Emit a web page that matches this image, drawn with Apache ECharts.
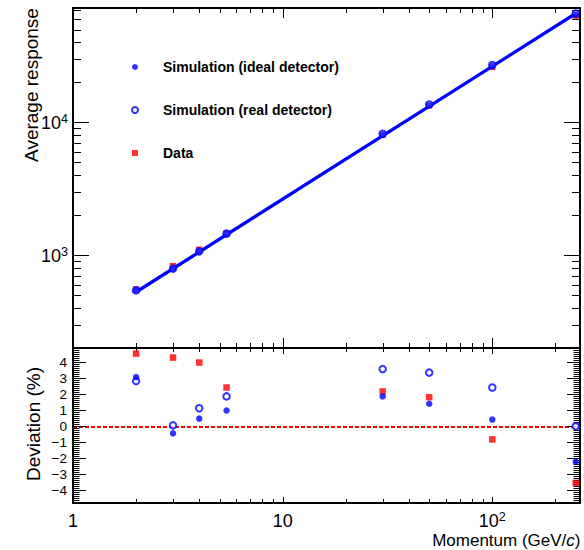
<!DOCTYPE html>
<html>
<head>
<meta charset="utf-8">
<script src="https://cdn.jsdelivr.net/npm/echarts@6/dist/echarts.min.js"></script>
<style>
  html, body { margin: 0; padding: 0; background: #fff; }
  #chart { width: 584px; height: 550px; }
</style>
</head>
<body>
<div id="chart"></div>
<script>
// ---------------- data ----------------
const momenta = [2, 3, 4, 5.4, 30, 50, 100, 250];
const respIdeal = [544, 789, 1061, 1440, 8068, 13386, 26511, 64535];
const respReal = [543, 792, 1068, 1452, 8204, 13644, 27042, 66000];
const respData = [552, 826, 1098, 1460, 8093, 13440, 26184, 63664];
const fitMomenta = [2, 250];
const fitResp = [528, 66000];
const devIdeal = [3.08, -0.44, 0.48, 0.99, 1.87, 1.41, 0.42, -2.22];
const devReal = [2.83, 0.06, 1.13, 1.87, 3.58, 3.36, 2.43, 0.0];
const devData = [4.55, 4.3, 3.99, 2.43, 2.18, 1.82, -0.82, -3.54];

const nameIdeal = 'Simulation (ideal detector)';
const nameReal = 'Simulation (real detector)';
const nameData = 'Data';

// ---------------- ticks ----------------
const xMajorTicks = [1, 10, 100];
const xMinorTicks = [2, 3, 4, 5, 6, 7, 8, 9, 20, 30, 40, 50, 60, 70, 80, 90, 200];
const respMajorTicks = [1000, 10000];
const respMinorTicks = [200, 300, 400, 500, 600, 700, 800, 900,
  2000, 3000, 4000, 5000, 6000, 7000, 8000, 9000,
  20000, 30000, 40000, 50000, 60000, 70000];
const devMajorTicks = [-4, -3, -2, -1, 0, 1, 2, 3, 4];
const devMinorTicks = [];
for (let i = -38; i <= 39; i++) { if (i % 8 !== 0) devMinorTicks.push(i / 8); }

const xRange = [1, 262];
const respRange = [200, 72600];
const devRange = [-4.8, 4.9];

const FONT = '"Liberation Sans", Arial, Helvetica, sans-serif';

function zip(a, b) { return a.map((v, i) => [v, b[i]]); }

function xTicks(gi, values, len, yRef) {
  return {
    type: 'custom', xAxisIndex: gi, yAxisIndex: gi, silent: true, z: 10,
    data: values.map(v => [v, yRef]),
    renderItem: function (params, api) {
      const cs = params.coordSys;
      const px = Math.round(api.coord([api.value(0), yRef])[0]) + 0.5;
      const b = cs.y + cs.height, t = cs.y;
      return { type: 'group', children: [
        { type: 'line', shape: { x1: px, y1: b, x2: px, y2: b - len }, style: { stroke: '#000', lineWidth: 1 } },
        { type: 'line', shape: { x1: px, y1: t, x2: px, y2: t + len }, style: { stroke: '#000', lineWidth: 1 } }
      ] };
    }
  };
}
function yTicks(gi, values, len, xRef) {
  return {
    type: 'custom', xAxisIndex: gi, yAxisIndex: gi, silent: true, z: 10,
    data: values.map(v => [xRef, v]),
    renderItem: function (params, api) {
      const cs = params.coordSys;
      const py = Math.round(api.coord([xRef, api.value(1)])[1]) + 0.5;
      const l = cs.x, r = cs.x + cs.width;
      return { type: 'group', children: [
        { type: 'line', shape: { x1: l, y1: py, x2: l + len, y2: py }, style: { stroke: '#000', lineWidth: 1 } },
        { type: 'line', shape: { x1: r, y1: py, x2: r - len, y2: py }, style: { stroke: '#000', lineWidth: 1 } }
      ] };
    }
  };
}

function powLabel(v) {
  const e = Math.log10(v);
  const r = Math.round(e);
  if (Math.abs(e - r) > 1e-6) return '';
  if (r === 0) return '{b|1}';
  if (r === 1) return '{b|10}';
  return '{b|10}{s|' + r + '}';
}
const powRich = {
  b: { fontFamily: FONT, fontSize: 18, lineHeight: 20, color: '#000', verticalAlign: 'bottom' },
  s: { fontFamily: FONT, fontSize: 12.5, lineHeight: 12, color: '#000', verticalAlign: 'top' }
};

const blue = '#0000ff';
const red = '#ff0000';
const symSize = 6.5;

const chart = echarts.init(document.getElementById('chart'), null, { renderer: 'svg' });
chart.setOption({
  animation: false,
  backgroundColor: '#fff',
  grid: [
    { left: 73, right: 4, top: 8, height: 340, show: true, borderColor: '#000', borderWidth: 2, backgroundColor: 'transparent' },
    { left: 73, right: 4, top: 348, height: 155, show: true, borderColor: '#000', borderWidth: 2, backgroundColor: 'transparent' }
  ],
  xAxis: [
    { gridIndex: 0, type: 'log', logBase: 10, min: xRange[0], max: xRange[1],
      axisLine: { show: false }, axisTick: { show: false }, axisLabel: { show: false }, splitLine: { show: false } },
    { gridIndex: 1, type: 'log', logBase: 10, min: xRange[0], max: xRange[1],
      axisLine: { show: false }, axisTick: { show: false }, splitLine: { show: false },
      axisLabel: { show: true, margin: 7, formatter: powLabel, rich: powRich, showMinLabel: true, showMaxLabel: true, hideOverlap: false } }
  ],
  yAxis: [
    { gridIndex: 0, type: 'log', logBase: 10, min: respRange[0], max: respRange[1],
      axisLine: { show: false }, axisTick: { show: false }, splitLine: { show: false },
      axisLabel: { show: true, margin: 5, formatter: powLabel, rich: powRich } },
    { gridIndex: 1, type: 'value', min: devRange[0], max: devRange[1], splitNumber: 10,
      axisLine: { show: false }, axisTick: { show: false }, splitLine: { show: false },
      axisLabel: { show: true, margin: 6, fontFamily: FONT, fontSize: 13.5, color: '#000',
        formatter: function (v) {
          if (Math.abs(v - Math.round(v)) > 1e-6) return '';
          const r = Math.round(v);
          return r < 0 ? '\u2212' + (-r) : String(r);
        } } }
  ],
  legend: {
    orient: 'vertical', left: 131, top: 60, padding: 0, itemWidth: 6, itemHeight: 6, itemGap: 29,
    selectedMode: false,
    data: [nameIdeal, nameReal, nameData],
    textStyle: { fontFamily: FONT, fontWeight: 'bold', fontSize: 14, lineHeight: 14, color: '#000', padding: [0, 0, 0, 20] }
  },
  graphic: [
    { type: 'text', x: 31.5, y: 85, rotation: Math.PI / 2,
      style: { text: 'Average response', fontFamily: FONT, fontSize: 19, fill: '#000', align: 'center', verticalAlign: 'middle' } },
    { type: 'text', x: 33.5, y: 424, rotation: Math.PI / 2,
      style: { text: 'Deviation (%)', fontFamily: FONT, fontSize: 19, fill: '#000', align: 'center', verticalAlign: 'middle' } },
    { type: 'text', x: 580.5, y: 540.5,
      style: { text: '{n|Momentum (GeV/}{i|c}{n|)}', align: 'right', verticalAlign: 'middle',
        rich: { n: { fontFamily: FONT, fontSize: 17, lineHeight: 14, fill: '#000' },
                i: { fontFamily: FONT, fontSize: 17, lineHeight: 14, fontStyle: 'italic', fill: '#000' } } } }
  ],
  series: [
    // top panel
    { name: nameData, type: 'scatter', xAxisIndex: 0, yAxisIndex: 0, symbol: 'rect', symbolSize: symSize, clip: false,
      itemStyle: { color: red }, data: zip(momenta, respData), z: 20 },
    { name: 'fit', type: 'line', xAxisIndex: 0, yAxisIndex: 0, symbol: 'none', silent: true,
      lineStyle: { color: blue, width: 3.3 }, data: zip(fitMomenta, fitResp), z: 21 },
    { name: nameReal, type: 'scatter', xAxisIndex: 0, yAxisIndex: 0, symbol: 'emptyCircle', symbolSize: symSize, clip: false,
      itemStyle: { color: blue, borderColor: blue, borderWidth: 1 }, data: zip(momenta, respReal), z: 22 },
    { name: nameIdeal, type: 'scatter', xAxisIndex: 0, yAxisIndex: 0, symbol: 'circle', symbolSize: symSize, clip: false,
      itemStyle: { color: blue }, data: zip(momenta, respIdeal), z: 23 },
    // bottom panel
    { name: nameData, type: 'scatter', xAxisIndex: 1, yAxisIndex: 1, symbol: 'rect', symbolSize: symSize, clip: false,
      itemStyle: { color: red }, data: zip(momenta, devData), z: 20,
      markLine: { silent: true, symbol: ['none', 'none'], label: { show: false },
        lineStyle: { color: red, type: [4, 2], width: 2 }, data: [{ yAxis: 0 }] } },
    { name: nameReal, type: 'scatter', xAxisIndex: 1, yAxisIndex: 1, symbol: 'emptyCircle', symbolSize: symSize, clip: false,
      itemStyle: { color: blue, borderColor: blue, borderWidth: 1 }, data: zip(momenta, devReal), z: 22 },
    { name: nameIdeal, type: 'scatter', xAxisIndex: 1, yAxisIndex: 1, symbol: 'circle', symbolSize: symSize, clip: false,
      itemStyle: { color: blue }, data: zip(momenta, devIdeal), z: 23 },
    // ticks
    xTicks(0, xMajorTicks, 10, 1000),
    xTicks(0, xMinorTicks, 5, 1000),
    yTicks(0, respMajorTicks, 16, 10),
    yTicks(0, respMinorTicks, 8, 10),
    xTicks(1, xMajorTicks, 6, 0),
    xTicks(1, xMinorTicks, 4, 0),
    yTicks(1, devMajorTicks, 13, 10),
    yTicks(1, devMinorTicks, 6.5, 10)
  ]
});
</script>
</body>
</html>
